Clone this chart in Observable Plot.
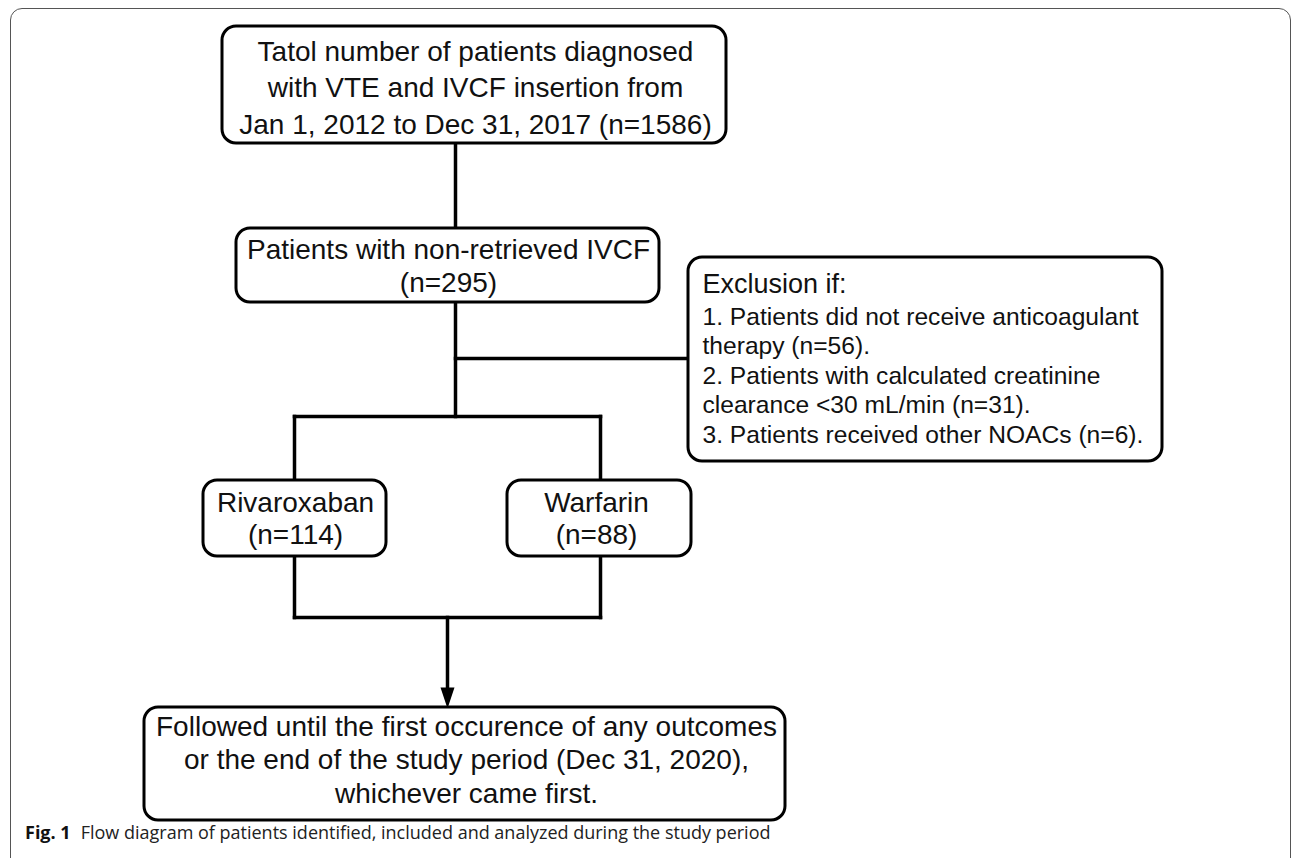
<!DOCTYPE html>
<html><head><meta charset="utf-8">
<script src="https://cdn.jsdelivr.net/npm/d3@7"></script>
<script src="https://cdn.jsdelivr.net/npm/@observablehq/plot@0.6"></script>
<style>
html,body{margin:0;padding:0;background:#fff;}
#wrap{position:relative;width:1293px;height:858px;overflow:hidden;}
#frame{position:absolute;left:10px;top:8px;width:1281px;height:900px;border:1.5px solid #555;border-radius:12px;box-sizing:border-box;pointer-events:none;}
#caption{position:absolute;left:25px;top:820px;font-family:"Open Sans",sans-serif;font-size:18px;line-height:24px;color:#222;white-space:nowrap;}
#caption b{color:#111;margin-right:10px;}
</style></head>
<body><div id="wrap"><div id="chart"></div><div id="caption"></div><div id="frame"></div></div>
<script>
// ---- chart content (values & texts) ----
const stageNames = [
  "Tatol number of patients diagnosed\nwith VTE and IVCF insertion from\nJan 1, 2012 to Dec 31, 2017",
  "Patients with non-retrieved IVCF",
  "Rivaroxaban",
  "Warfarin"
];
const stageCounts = [1586, 295, 114, 88];
const exclusionHeader = "Exclusion if:";
const exclusionReasons = [
  "Patients did not receive anticoagulant\ntherapy",
  "Patients with calculated creatinine\nclearance <30 mL/min",
  "Patients received other NOACs"
];
const exclusionCounts = [56, 31, 6];
const outcomeLines = [
  "Followed until the first occurence of any outcomes",
  "or the end of the study period (Dec 31, 2020),",
  "whichever came first."
];
const captionLabel = "Fig. 1";
const captionText = "Flow diagram of patients identified, included and analyzed during the study period";

// ---- layout (pixel geometry of the diagram) ----
const W = 1293, H = 822;
const stageBoxes = [
  {x1: 222, x2: 726, y1: 26, y2: 143, tx: 475, ty: 85, lh: 1.3, sep: " "},
  {x1: 236, x2: 659, y1: 228, y2: 302, tx: 448, ty: 264.5, lh: 1.18, sep: "\n"},
  {x1: 203, x2: 386, y1: 480, y2: 556, tx: 295, ty: 517, lh: 1.15, sep: "\n"},
  {x1: 507, x2: 691, y1: 480, y2: 556, tx: 596, ty: 517, lh: 1.15, sep: "\n"}
];
const exclusionBox = {x1: 688, x2: 1162, y1: 257, y2: 461, tx: 702, headY: 284, listY: 374};
const outcomeBox = {x1: 144, x2: 785, y1: 707, y2: 820, tx: 466, ty: 758};
const connectors = [
  {x1: 455, y1: 143, x2: 455, y2: 228},
  {x1: 455, y1: 302, x2: 455, y2: 416},
  {x1: 455, y1: 358, x2: 688, y2: 358},
  {x1: 294, y1: 416, x2: 600, y2: 416},
  {x1: 294, y1: 416, x2: 294, y2: 480},
  {x1: 600, y1: 416, x2: 600, y2: 480},
  {x1: 294, y1: 556, x2: 294, y2: 617},
  {x1: 600, y1: 556, x2: 600, y2: 617},
  {x1: 294, y1: 617, x2: 600, y2: 617},
  {x1: 447, y1: 617, x2: 447, y2: 692}
];
const arrowTip = [{x: 447, y: 708}];

// ---- build ----
const font = "Liberation Sans, Arial, sans-serif";
const stageData = stageBoxes.map((b, i) => ({...b, label: stageNames[i] + b.sep + `(n=${stageCounts[i]})`}));
const exclusionList = exclusionReasons.map((r, i) => `${i + 1}. ${r} (n=${exclusionCounts[i]}).`).join("\n");
const arrowSymbol = {
  draw(ctx) {
    ctx.moveTo(0, 0);
    ctx.lineTo(-7, -21);
    ctx.lineTo(7, -21);
    ctx.closePath();
  }
};

const chart = Plot.plot({
  width: W,
  height: H,
  margin: 0,
  style: {background: "transparent"},
  x: {domain: [0, W], range: [0, W], axis: null},
  y: {domain: [0, H], range: [0, H], axis: null},
  marks: [
    Plot.link(connectors, {x1: "x1", y1: "y1", x2: "x2", y2: "y2", stroke: "#000", strokeWidth: 3.5, strokeLinecap: "square"}),
    Plot.dot(arrowTip, {x: "x", y: "y", symbol: arrowSymbol, r: 10, fill: "#000", stroke: "none"}),
    Plot.rect([...stageData, exclusionBox, outcomeBox], {x1: "x1", x2: "x2", y1: "y1", y2: "y2", fill: "#fff", stroke: "#000", strokeWidth: 3, rx: 14}),
    ...stageData.map(b => Plot.text([b], {x: "tx", y: "ty", text: "label", fontSize: 28, fontFamily: font, fill: "#111", lineHeight: b.lh, textAnchor: "middle"})),
    Plot.text([exclusionBox], {x: "tx", y: "headY", text: () => exclusionHeader, fontSize: 27, fontFamily: font, fill: "#111", textAnchor: "start"}),
    Plot.text([exclusionBox], {x: "tx", y: "listY", text: () => exclusionList, fontSize: 24.6, fontFamily: font, fill: "#111", textAnchor: "start", lineHeight: 1.2}),
    Plot.text([outcomeBox], {x: "tx", y: "ty", text: () => outcomeLines.join("\n"), fontSize: 28, fontFamily: font, fill: "#111", textAnchor: "middle", lineHeight: 1.2})
  ]
});
document.getElementById("chart").appendChild(chart);

const cap = document.getElementById("caption");
const b = document.createElement("b");
b.textContent = captionLabel;
cap.appendChild(b);
cap.appendChild(document.createTextNode(captionText));
</script>
</body></html>
